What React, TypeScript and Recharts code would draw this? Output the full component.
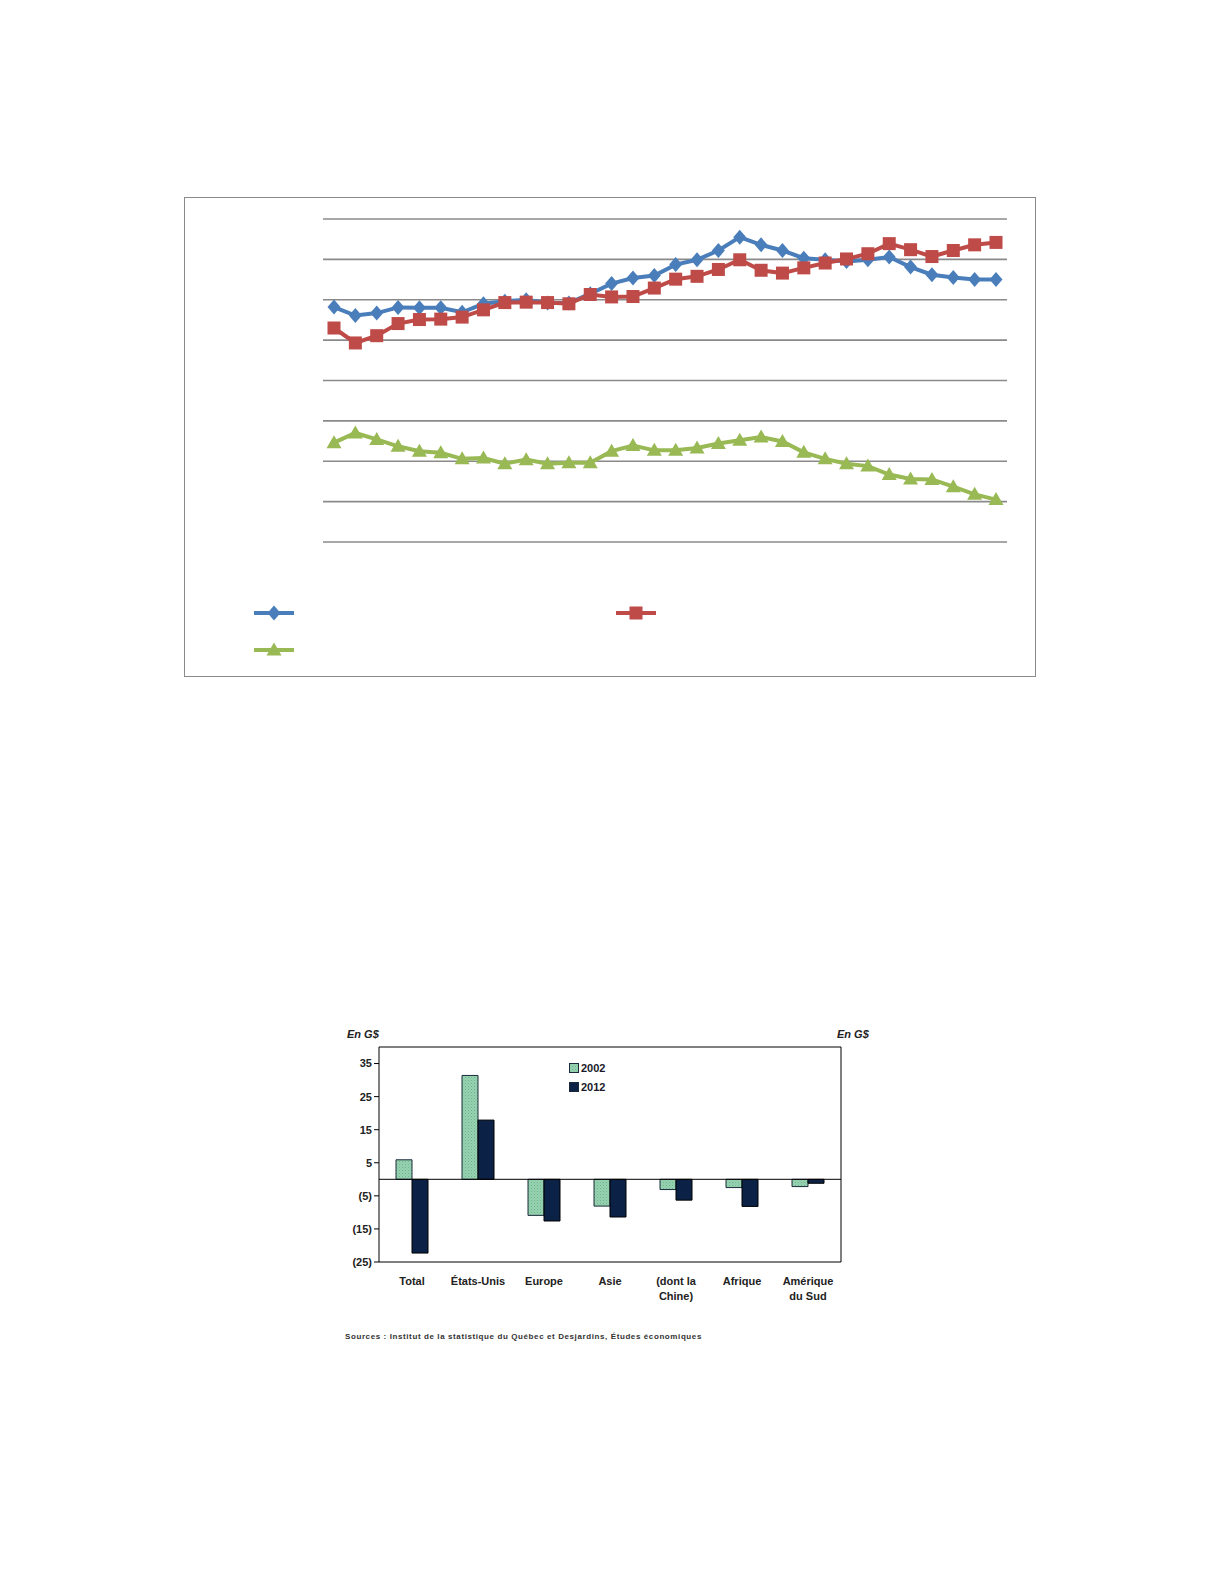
import React from 'react';
import { LineChart, Line, XAxis, YAxis, Legend, BarChart, Bar, ReferenceLine } from 'recharts';

// ---------- Line chart data (values read in grid units, 0..8) ----------
const years = [1981, 1982, 1983, 1984, 1985, 1986, 1987, 1988, 1989, 1990, 1991, 1992, 1993, 1994, 1995, 1996,
  1997, 1998, 1999, 2000, 2001, 2002, 2003, 2004, 2005, 2006, 2007, 2008, 2009, 2010, 2011, 2012];
const seriesBlue = [5.82, 5.61, 5.67, 5.81, 5.8, 5.8, 5.69, 5.9, 5.96, 6.0, 5.92, 5.92, 6.15, 6.4, 6.54, 6.6,
  6.87, 6.99, 7.22, 7.55, 7.36, 7.22, 7.03, 6.99, 6.95, 6.99, 7.06, 6.81, 6.62, 6.55, 6.5, 6.5];
const seriesRed = [5.3, 4.93, 5.11, 5.41, 5.51, 5.52, 5.57, 5.75, 5.93, 5.94, 5.93, 5.9, 6.13, 6.07, 6.08, 6.29,
  6.51, 6.58, 6.75, 6.99, 6.73, 6.66, 6.79, 6.91, 7.01, 7.14, 7.39, 7.24, 7.07, 7.22, 7.36, 7.42];
const seriesGreen = [2.46, 2.7, 2.54, 2.37, 2.25, 2.21, 2.06, 2.08, 1.94, 2.04, 1.94, 1.96, 1.96, 2.25, 2.39, 2.27,
  2.27, 2.33, 2.44, 2.52, 2.6, 2.49, 2.22, 2.06, 1.94, 1.88, 1.67, 1.56, 1.55, 1.37, 1.18, 1.05];
const gridTicks = [0, 1, 2, 3, 4, 5, 6, 7, 8];

const lineData = years.map((y, i) => ({ year: y, blue: seriesBlue[i], red: seriesRed[i], green: seriesGreen[i] }));

// ---------- Bar chart data ----------
const regions = ['Total', 'États-Unis', 'Europe', 'Asie', '(dont la\nChine)', 'Afrique', 'Amérique\ndu Sud'];
const values2002 = [5.9, 31.4, -10.9, -8.1, -3.1, -2.5, -2.2];
const values2012 = [-22.3, 17.9, -12.6, -11.4, -6.3, -8.2, -1.2];
const barTicks = [-25, -15, -5, 5, 15, 25, 35];
const barData = regions.map((r, i) => ({ region: r, y2002: values2002[i], y2012: values2012[i] }));

const BLUE = '#4A7EBB';
const RED = '#BE4B48';
const GREEN = '#98B954';
const FONT = "'Liberation Sans', Arial, sans-serif";

function Marker({ kind, cx, cy, color }: { kind: string; cx: number; cy: number; color: string }) {
  if (kind === 'diamond') {
    return <path d={`M${cx},${cy - 7.5}L${cx + 6.5},${cy}L${cx},${cy + 7.5}L${cx - 6.5},${cy}Z`} fill={color} />;
  }
  if (kind === 'square') {
    return <rect x={cx - 6.5} y={cy - 6.5} width={13} height={13} fill={color} />;
  }
  return <path d={`M${cx},${cy - 7.5}L${cx + 7.5},${cy + 5.5}L${cx - 7.5},${cy + 5.5}Z`} fill={color} />;
}

const kindOf: Record<string, string> = { blue: 'diamond', red: 'square', green: 'triangle' };

const makeDot = (kind: string, color: string) => (props: any) => {
  const { cx, cy, index } = props;
  if (cx == null || cy == null) return <g key={`${kind}-${index}`} />;
  return (
    <g key={`${kind}-${index}`}>
      <Marker kind={kind} cx={cx} cy={cy} color={color} />
    </g>
  );
};

const LineLegend = (props: any) => {
  const payload = props.payload || [];
  return (
    <div style={{ display: 'flex', flexWrap: 'wrap', width: 724 }}>
      {payload.map((p: any) => (
        <div key={p.dataKey} style={{ width: 362, height: 37 }}>
          <svg width={44} height={20} style={{ display: 'block' }}>
            <line x1={1} y1={10} x2={41} y2={10} stroke={p.color} strokeWidth={4} />
            <Marker kind={kindOf[p.dataKey]} cx={21} cy={10} color={p.color} />
          </svg>
        </div>
      ))}
    </div>
  );
};

const BarLegend = (props: any) => {
  const payload = props.payload || [];
  return (
    <div style={{ fontFamily: FONT, fontWeight: 'bold', fontSize: 11, color: '#1a1a2a' }}>
      {payload.map((p: any) => (
        <div key={p.value} style={{ display: 'flex', alignItems: 'center', height: 19 }}>
          <svg width={12} height={10} style={{ display: 'block' }}>
            <rect x={0.5} y={0.5} width={9} height={9} fill={p.dataKey === 'y2002' ? 'url(#stipple)' : '#0B2246'} stroke="#1a2a3a" strokeWidth={1} />
          </svg>
          <span>{p.value}</span>
        </div>
      ))}
    </div>
  );
};

const fmtTick = (v: number) => (v < 0 ? `(${-v})` : `${v}`);

const RegionTick = (props: any) => {
  const { x, y, payload } = props;
  const lines = String(payload.value).split('\n');
  return (
    <text x={x} y={y + 15} textAnchor="middle" fontFamily={FONT} fontWeight="bold" fontSize={11} fill="#222">
      {lines.map((l, i) => (
        <tspan key={i} x={x} dy={i === 0 ? 0 : 15}>{l}</tspan>
      ))}
    </text>
  );
};

export default function App() {
  return (
    <div style={{ position: 'absolute', left: 0, top: 0, width: 1224, height: 1584, background: '#fff' }}>
      {/* Line chart */}
      <div style={{ position: 'absolute', left: 184, top: 197, width: 852, height: 480, border: '1px solid #8a8a8a', boxSizing: 'border-box' }}>
        <LineChart width={850} height={478} data={lineData} margin={{ top: 21, right: 28, bottom: 134, left: 138 }}>
          <XAxis dataKey="year" tick={false} axisLine={false} tickLine={false} height={0} padding={{ left: 11, right: 11 }} />
          <YAxis domain={[0, 8]} ticks={gridTicks} tick={false} axisLine={false} tickLine={false} width={0} />
          {gridTicks.map((t) => (
            <ReferenceLine key={t} y={t} stroke="#8a8a8a" strokeWidth={1.6} ifOverflow="extendDomain" />
          ))}
          <Line dataKey="blue" name="Série 1" stroke={BLUE} strokeWidth={4} dot={makeDot('diamond', BLUE)} isAnimationActive={false} />
          <Line dataKey="red" name="Série 2" stroke={RED} strokeWidth={4} dot={makeDot('square', RED)} isAnimationActive={false} />
          <Line dataKey="green" name="Série 3" stroke={GREEN} strokeWidth={4} dot={makeDot('triangle', GREEN)} isAnimationActive={false} />
          <Legend layout="vertical" align="center" verticalAlign="middle" content={LineLegend}
            wrapperStyle={{ position: 'absolute', left: 68, top: 405, width: 724, margin: 0 }} />
        </LineChart>
      </div>

      {/* Bar chart */}
      <div style={{ position: 'absolute', left: 347, top: 1028, fontFamily: FONT, fontStyle: 'italic', fontWeight: 'bold', fontSize: 11, color: '#222' }}>En G$</div>
      <div style={{ position: 'absolute', left: 837, top: 1028, fontFamily: FONT, fontStyle: 'italic', fontWeight: 'bold', fontSize: 11, color: '#222' }}>En G$</div>
      <div style={{ position: 'absolute', left: 330, top: 1020 }}>
        <BarChart width={560} height={300} data={barData} margin={{ top: 27, right: 0, bottom: 18, left: 0 }} barSize={16} barGap={0}>
          <defs>
            <pattern id="stipple" width={3} height={3} patternUnits="userSpaceOnUse">
              <rect width={3} height={3} fill="#97D3B1" />
              <rect width={1} height={1} fill="#6EB08F" />
              <rect x={1.5} y={1.5} width={1} height={1} fill="#7CBB9B" />
            </pattern>
          </defs>
          <XAxis dataKey="region" interval={0} tickLine={false} axisLine={{ stroke: '#000' }} height={40} tick={RegionTick} />
          <YAxis yAxisId="left" domain={[-25, 40]} ticks={barTicks} interval={0} width={49} tickSize={5}
            tickLine={{ stroke: '#000' }} axisLine={{ stroke: '#000' }} tickFormatter={fmtTick}
            tick={{ fontFamily: FONT, fontWeight: 'bold', fontSize: 11, fill: '#222' }} />
          <YAxis yAxisId="right" orientation="right" domain={[-25, 40]} ticks={barTicks} interval={0} width={49} tickSize={5}
            tickLine={{ stroke: '#000' }} axisLine={{ stroke: '#000' }} tickFormatter={fmtTick}
            tick={{ fontFamily: FONT, fontWeight: 'bold', fontSize: 11, fill: '#222', textAnchor: 'start' }} />
          <ReferenceLine yAxisId="left" y={0} stroke="#000" strokeWidth={1} />
          <ReferenceLine yAxisId="left" y={40} stroke="#000" strokeWidth={1} />
          <Bar yAxisId="left" dataKey="y2002" name="2002" fill="url(#stipple)" stroke="#1a2a3a" strokeWidth={1} isAnimationActive={false} />
          <Bar yAxisId="left" dataKey="y2012" name="2012" fill="#0B2246" stroke="#000" strokeWidth={1} isAnimationActive={false} />
          <Legend layout="vertical" align="center" verticalAlign="middle" content={BarLegend}
            wrapperStyle={{ position: 'absolute', left: 239, top: 38, width: 60, margin: 0 }} />
        </BarChart>
      </div>
      <div style={{ position: 'absolute', left: 345, top: 1332, fontFamily: FONT, fontWeight: 'bold', fontSize: 8, letterSpacing: 0.6, color: '#333', whiteSpace: 'nowrap' }}>
        Sources : Institut de la statistique du Québec et Desjardins, Études économiques
      </div>
    </div>
  );
}
